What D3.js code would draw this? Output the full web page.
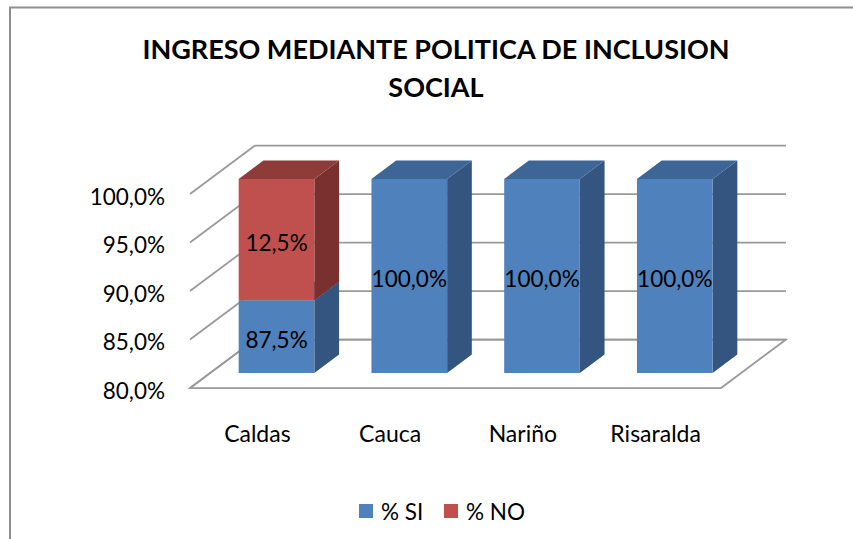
<!DOCTYPE html>
<html>
<head>
<meta charset="utf-8">
<script src="https://cdn.jsdelivr.net/npm/d3@7"></script>
<style>
  body { margin: 0; background: #fff; }
  svg text { font-family: Lato, "Open Sans", sans-serif; fill: #000; }
</style>
</head>
<body>
<div id="chart"></div>
<script>
// data
const categories = ["Caldas", "Cauca", "Nariño", "Risaralda"];
const siValues = [0.875, 1.0, 1.0, 1.0];
const noValues = [0.125, 0.0, 0.0, 0.0];
const yTicks = [0.80, 0.85, 0.90, 0.95, 1.00];
const seriesNames = ["% SI", "% NO"];
const titleLines = ["INGRESO MEDIANTE POLITICA DE INCLUSION", "SOCIAL"];

const width = 853, height = 539;

// colours: front, side, top
const colors = {
  "% SI": { front: "#4f81bd", side: "#34557f", top: "#3d6596" },
  "% NO": { front: "#c0504d", side: "#79302e", top: "#8d3c39" }
};

const esLocale = d3.formatLocale({decimal: ",", thousands: ".", grouping: [3], currency: ["", "€"]});
const pct = esLocale.format(".1%");

const svg = d3.select("#chart").append("svg")
    .attr("width", width)
    .attr("height", height);

// outer frame (runs off the right and bottom)
svg.append("path")
    .attr("d", `M10,${height + 2} L10,7.5 L${width + 2},7.5`)
    .attr("fill", "none")
    .attr("stroke", "#8f8f8f")
    .attr("stroke-width", 2);

// title
svg.append("g").selectAll("text")
  .data(titleLines)
  .join("text")
    .attr("x", 436)
    .attr("y", (d, i) => 59 + i * 38)
    .attr("text-anchor", "middle")
    .attr("font-size", 27)
    .attr("font-weight", "bold")
    .text(d => d);

// front plane scales + depth vector for the oblique 3d look
const x = d3.scaleBand()
    .domain(categories)
    .range([190, 721])
    .paddingInner(0.43)
    .paddingOuter(0.215);

const y = d3.scaleLinear()
    .domain([0.8, 1.0])
    .range([388, 194]);

const DX = 65, DY = -48.5;
const zFront = 0.31, zBack = 0.69;

function pt(px, v, z) {
  return [px + z * DX, y(v) + z * DY];
}
const poly = pts => "M" + pts.map(p => p.join(",")).join("L") + "Z";

const x0 = x.range()[0], x1 = x.range()[1];
const vMin = y.domain()[0];

// floor
svg.append("path")
    .attr("d", poly([pt(x0, vMin, 0), pt(x1, vMin, 0), pt(x1, vMin, 1), pt(x0, vMin, 1)]))
    .attr("fill", "#fff")
    .attr("stroke", "#999")
    .attr("stroke-width", 1.75);

// gridlines: side wall diagonals + back wall horizontals
const grid = svg.append("g")
    .attr("stroke", "#999")
    .attr("stroke-width", 1.75)
    .attr("fill", "none");

grid.selectAll("path.side")
  .data(yTicks)
  .join("path")
    .attr("class", "side")
    .attr("d", v => "M" + pt(x0, v, 0).join(",") + "L" + pt(x0, v, 1).join(","));

grid.selectAll("path.back")
  .data(yTicks)
  .join("path")
    .attr("class", "back")
    .attr("d", v => "M" + pt(x0, v, 1).join(",") + "L" + pt(x1, v, 1).join(","));

// y axis labels
svg.append("g").selectAll("text")
  .data(yTicks)
  .join("text")
    .attr("x", 165)
    .attr("y", v => y(v) + 2)
    .attr("text-anchor", "end")
    .attr("dominant-baseline", "central")
    .attr("font-size", 22.5)
    .text(v => pct(v));

// category labels
svg.append("g").selectAll("text")
  .data(categories)
  .join("text")
    .attr("x", d => x(d) + x.bandwidth() / 2 + 1)
    .attr("y", 442)
    .attr("text-anchor", "middle")
    .attr("font-size", 23)
    .text(d => d);

// stacked segments
const segments = [];
categories.forEach((c, i) => {
  let base = vMin;
  [siValues[i], noValues[i]].forEach((val, s) => {
    if (val <= 0) return;
    const start = s === 0 ? vMin : base;
    const end = s === 0 ? val : base + val;
    segments.push({cat: c, series: seriesNames[s], v0: start, v1: end, value: val});
    base = end;
  });
});

const bars = svg.append("g");
segments.forEach(d => {
  const xl = x(d.cat), xr = x(d.cat) + x.bandwidth();
  const col = colors[d.series];
  const g = bars.append("g");
  g.append("path")
      .attr("d", poly([pt(xr, d.v0, zFront), pt(xr, d.v0, zBack), pt(xr, d.v1, zBack), pt(xr, d.v1, zFront)]))
      .attr("fill", col.side);
  g.append("path")
      .attr("d", poly([pt(xl, d.v1, zFront), pt(xr, d.v1, zFront), pt(xr, d.v1, zBack), pt(xl, d.v1, zBack)]))
      .attr("fill", col.top);
  g.append("path")
      .attr("d", poly([pt(xl, d.v0, zFront), pt(xr, d.v0, zFront), pt(xr, d.v1, zFront), pt(xl, d.v1, zFront)]))
      .attr("fill", col.front);
});

// data labels on the front faces
svg.append("g").selectAll("text")
  .data(segments)
  .join("text")
    .attr("x", d => pt(x(d.cat) + x.bandwidth() / 2, 0.8, zFront)[0])
    .attr("y", d => pt(0, (d.v0 + d.v1) / 2, zFront)[1] + 3)
    .attr("text-anchor", "middle")
    .attr("dominant-baseline", "central")
    .attr("font-size", 22.5)
    .text(d => pct(d.value));

// legend
const legend = svg.append("g")
  .selectAll("g")
  .data(seriesNames)
  .join("g")
    .attr("transform", (d, i) => `translate(${359 + i * 85},504)`);

legend.append("rect")
    .attr("width", 14)
    .attr("height", 14)
    .attr("fill", d => colors[d].front);

legend.append("text")
    .attr("x", 22)
    .attr("y", 7.5)
    .attr("dominant-baseline", "central")
    .attr("font-size", 22.5)
    .text(d => d);
</script>
</body>
</html>
